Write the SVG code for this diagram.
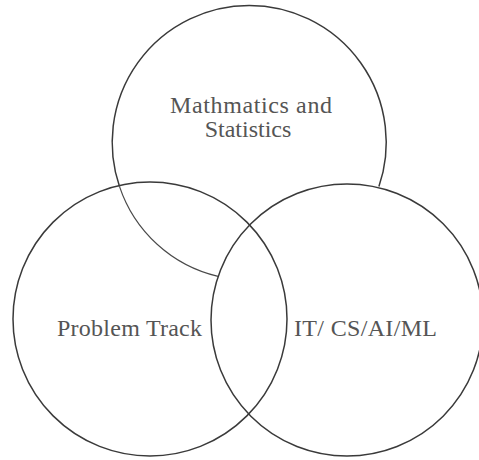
<svg xmlns="http://www.w3.org/2000/svg" width="479" height="460" viewBox="0 0 479 460">
<style>
.c{fill:none;stroke:#3a3a3a;stroke-width:1.5}
.thin{fill:none;stroke:#4a4a4a;stroke-width:1.1}
.t{font-family:"Liberation Serif","Times New Roman",serif;font-size:24px;fill:#555}
</style>
<rect width="479" height="460" fill="#fff"/>
<g id="maths">
<path class="c" d="M 378.9 186.6 A 137 137 0 1 0 119.5 186.5"/>
<path class="thin" d="M 119.5 186.5 A 137 137 0 0 0 218.1 276.4"/>
<text class="t" x="170" y="113" textLength="162" lengthAdjust="spacing">Mathmatics  and</text>
<text class="t" x="248" y="137" text-anchor="middle">Statistics</text>
</g>
<g id="problem">
<circle class="c" cx="150" cy="319" r="137"/>
<text class="t" x="57" y="336" textLength="145" lengthAdjust="spacing">Problem Track</text>
</g>
<g id="itcs">
<circle class="c" cx="347" cy="320" r="136"/>
<text class="t" x="294" y="336" textLength="143" lengthAdjust="spacing">IT/ CS/AI/ML</text>
</g>
<g id="connectors"/>
</svg>
